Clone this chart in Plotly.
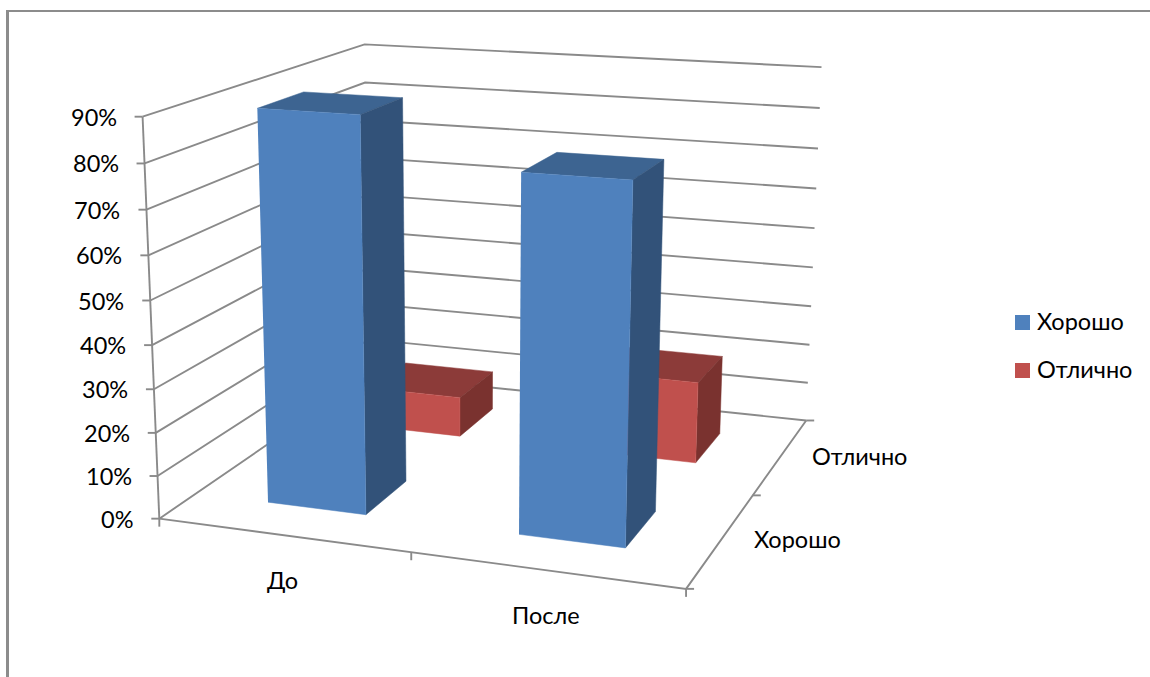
import numpy as np
import plotly.graph_objects as go

W, H = 1150, 677

categories = ["До", "После"]
series_names = ["Хорошо", "Отлично"]
horosho = [0.90, 0.80]
otlichno = [0.10, 0.20]
z_ticks = [i / 10 for i in range(10)]

# Pinhole view of the chart box: x along categories, y along series, z is the value
VIEW = np.array([
    [469.649, 293.888, -26.5692, 159.314],
    [21.1915, -58.5183, -453.177, 518.664],
    [-0.0832254, 0.227932, -0.0560505, 1.0],
])

GRAY = "#8a8a8a"
BLUE = ("#4F81BD", "#3D6491", "#325279")  # front, top, side
RED = ("#C0504D", "#8C3B39", "#7A322F")
FONT = dict(family="Lato", size=23.5, color="#000000")


def project(x, y, z):
    p = VIEW @ np.array([x, y, z, 1.0])
    return p[0] / p[2], p[1] / p[2]


fig = go.Figure()


def polyline(points):
    xy = [project(*p) for p in points]
    fig.add_trace(go.Scatter(x=[q[0] for q in xy], y=[q[1] for q in xy], mode="lines",
                             line=dict(color=GRAY, width=1.9), hoverinfo="skip", showlegend=False))


def tick(point, dx, dy):
    x, y = project(*point)
    fig.add_trace(go.Scatter(x=[x, x + dx], y=[y, y + dy], mode="lines",
                             line=dict(color=GRAY, width=1.9), hoverinfo="skip", showlegend=False))


def face(points, color):
    xy = [project(*p) for p in points]
    fig.add_trace(go.Scatter(x=[q[0] for q in xy], y=[q[1] for q in xy], mode="lines", fill="toself",
                             fillcolor=color, line=dict(color=color, width=0.5),
                             hoverinfo="skip", showlegend=False))


def bar(cat, ser, value, colors):
    # Gap width of 150% on both category axes
    x0, x1 = (cat + 0.3) / 2, (cat + 0.7) / 2
    y0, y1 = (ser + 0.3) / 2, (ser + 0.7) / 2
    face([(x0, y0, value), (x0, y1, value), (x1, y1, value), (x1, y0, value)], colors[1])
    face([(x1, y0, 0), (x1, y1, 0), (x1, y1, value), (x1, y0, value)], colors[2])
    face([(x0, y0, 0), (x1, y0, 0), (x1, y0, value), (x0, y0, value)], colors[0])


# Wall gridlines, axis edges and tick marks
for z in z_ticks:
    polyline([(0, 0, z), (0, 1, z), (1, 1, z)])
polyline([(0, 0, 0), (0, 0, z_ticks[-1])])
polyline([(0, 0, 0), (1, 0, 0), (1, 1, 0)])
for z in z_ticks:
    tick((0, 0, z), -8, 0)
for x in (0, 0.5, 1):
    tick((x, 0, 0), 0, 8)
for y in (0, 0.5, 1):
    tick((1, y, 0), 8, 0)

# Back row first so the front row covers it
for c in range(len(categories)):
    bar(c, 1, otlichno[c], RED)
for c in range(len(categories)):
    bar(c, 0, horosho[c], BLUE)

notes = []
for z in z_ticks:
    x, y = project(0, 0, z)
    notes.append(dict(x=x, y=y, text=f"{round(z * 100)}%", xanchor="right", xshift=-24))
for c, name in enumerate(categories):
    x, y = project((c + 0.5) / 2, 0, 0)
    notes.append(dict(x=x, y=y, text=name, xanchor="center", yshift=-45))
for s, name in enumerate(series_names):
    x, y = project(1, (s + 0.5) / 2, 0)
    notes.append(dict(x=x, y=y, text=name, xanchor="center", xshift=76 + 3 * s))

# Legend on the right
legend_shapes = []
for s, (name, col) in enumerate(zip(series_names, (BLUE[0], RED[0]))):
    yc = 322.5 + 48 * s
    legend_shapes.append(dict(type="rect", xref="x", yref="y", x0=1015, x1=1030, y0=yc - 7.5, y1=yc + 7.5,
                              fillcolor=col, line=dict(width=0)))
    notes.append(dict(x=1035, y=yc - 1.5, text=name, xanchor="left"))

# Chart frame: only its top and left edges fall inside the page
frame = [dict(type="rect", xref="x", yref="y", x0=6, x1=9, y0=10, y1=H, fillcolor="#8c8c8c", line=dict(width=0)),
         dict(type="rect", xref="x", yref="y", x0=6, x1=W, y0=10, y1=12, fillcolor="#8c8c8c", line=dict(width=0))]

fig.update_layout(
    width=W, height=H, margin=dict(l=0, r=0, t=0, b=0), showlegend=False,
    paper_bgcolor="white", plot_bgcolor="white",
    xaxis=dict(range=[0, W], visible=False),
    yaxis=dict(range=[H, 0], visible=False),
    shapes=legend_shapes + frame,
    annotations=[dict(xref="x", yref="y", showarrow=False, yanchor="middle", font=FONT, **n) for n in notes],
)
fig.write_html("out.html")
